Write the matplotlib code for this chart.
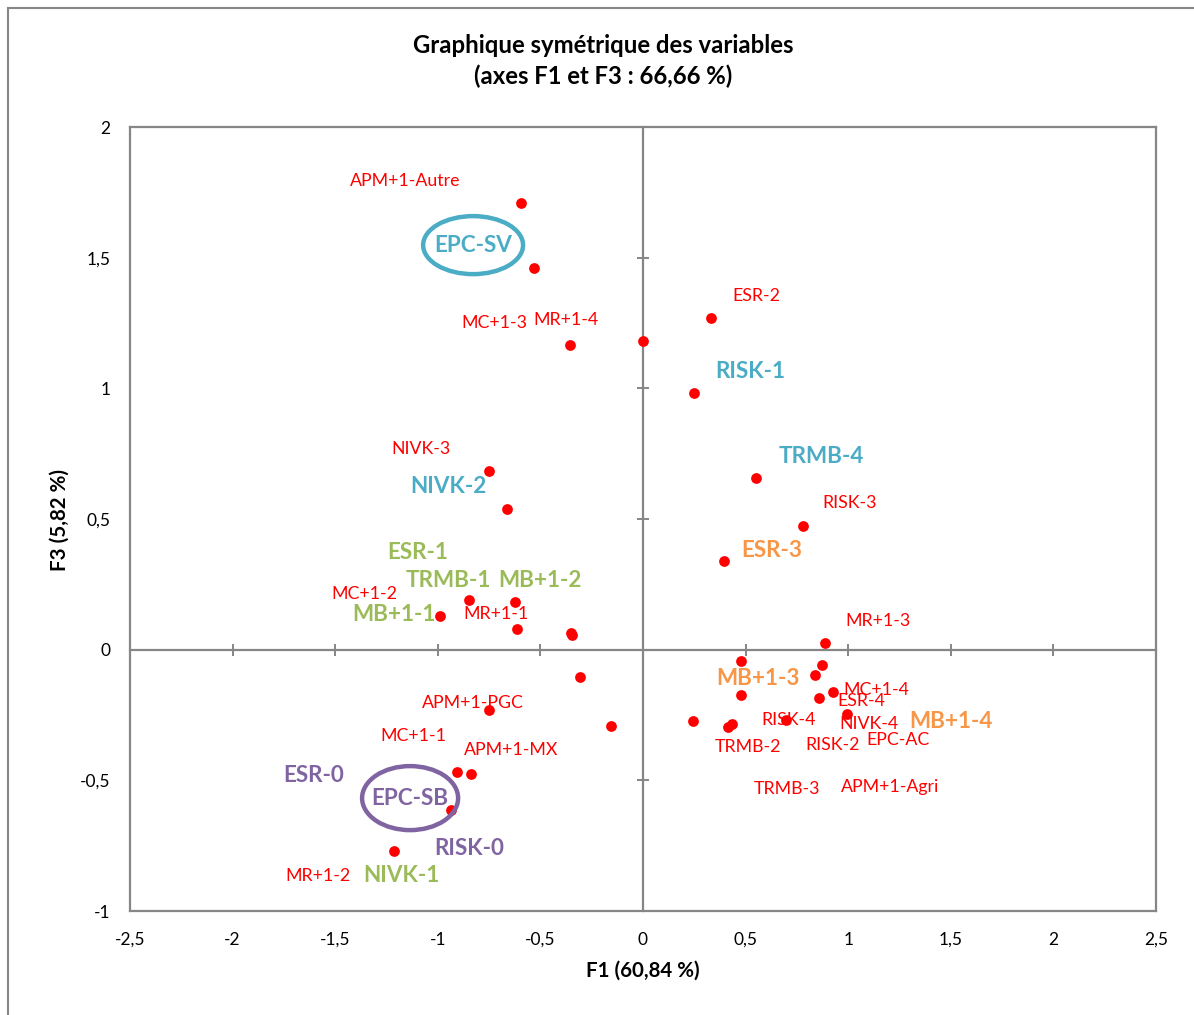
import matplotlib
matplotlib.use("Agg")
import matplotlib.pyplot as plt
from matplotlib.patches import Ellipse, Rectangle
from matplotlib.ticker import FuncFormatter

plt.rcParams['font.family'] = ['Lato', 'DejaVu Sans']

# ---- data ----
pt_x = [-0.595, -0.531, -0.356, 0.0, 0.331, 0.249, -0.75, -0.663, 0.551, 0.78,
        0.395, -0.848, -0.624, -0.99, -0.614, -0.346, -0.349, 0.887, 0.478, 0.872,
        -0.307, 0.838, 0.926, 0.478, 0.858, -0.75, 0.244, -0.156, 0.994, 0.697,
        0.434, 0.414, -0.906, -0.838, -0.936, -1.213]
pt_y = [1.71, 1.46, 1.166, 1.18, 1.27, 0.982, 0.683, 0.538, 0.657, 0.473,
        0.339, 0.19, 0.182, 0.128, 0.079, 0.056, 0.062, 0.026, -0.043, -0.059,
        -0.105, -0.097, -0.162, -0.174, -0.186, -0.231, -0.273, -0.292, -0.246, -0.268,
        -0.286, -0.296, -0.468, -0.475, -0.613, -0.77]

red_labels = ["APM+1-Autre", "MC+1-3", "MR+1-4", "ESR-2", "NIVK-3", "RISK-3",
              "MC+1-2", "MR+1-1", "MR+1-3", "APM+1-PGC", "MC+1-1", "APM+1-MX",
              "MR+1-2", "MC+1-4", "ESR-4", "RISK-4", "NIVK-4", "EPC-AC",
              "TRMB-2", "RISK-2", "TRMB-3", "APM+1-Agri"]
red_lx = [-1.159, -0.726, -0.375, 0.551, -1.082, 1.009, -1.36, -0.716, 1.145, -0.828,
          -1.121, -0.643, -1.584, 1.135, 1.062, 0.711, 1.101, 1.243, 0.512, 0.926,
          0.702, 1.204]
red_ly = [1.793, 1.25, 1.262, 1.353, 0.768, 0.561, 0.213, 0.136, 0.11, -0.204,
          -0.33, -0.384, -0.866, -0.155, -0.197, -0.27, -0.283, -0.345, -0.372, -0.365,
          -0.533, -0.525]

big_labels = ["EPC-SV", "RISK-1", "TRMB-4", "NIVK-2", "ESR-1", "TRMB-1", "MB+1-2",
              "MB+1-1", "ESR-3", "MB+1-3", "MB+1-4", "ESR-0", "EPC-SB", "RISK-0", "NIVK-1"]
big_lx = [-0.828, 0.521, 0.867, -0.95, -1.096, -0.95, -0.502, -1.213, 0.629, 0.56,
          1.501, -1.603, -1.135, -0.848, -1.179]
big_ly = [1.548, 1.066, 0.741, 0.626, 0.373, 0.266, 0.266, 0.133, 0.381, -0.109,
          -0.273, -0.48, -0.568, -0.762, -0.866]
big_group = ["blue", "blue", "blue", "blue", "green", "green", "green",
             "green", "orange", "orange", "orange", "purple", "purple", "purple", "green"]

ellipse_labels = ["EPC-SV", "EPC-SB"]

xticks = [-2.5, -2, -1.5, -1, -0.5, 0, 0.5, 1, 1.5, 2, 2.5]
yticks = [-1, -0.5, 0, 0.5, 1, 1.5, 2]

palette = {"blue": "#4BACC6", "green": "#9BBB59", "orange": "#F79646", "purple": "#8064A2"}
gray = "#868686"

def fmt(v, pos=None):
    return ("%g" % v).replace(".", ",")

W, H = 1194, 1015
fig = plt.figure(figsize=(W / 100, H / 100), dpi=100)

# outer chart border (partly off-canvas as in the reference)
fig.patches.append(Rectangle((8 / W, -0.05), 1.2, 1 - 8 / H + 0.05, transform=fig.transFigure,
                             fill=False, edgecolor=gray, linewidth=1.5))

pos = [130 / W, 1 - 911 / H, (1156 - 130) / W, (911 - 127) / H]
ax = fig.add_axes(pos)
ax.set_xlim(-2.5, 2.5)
ax.set_ylim(-1, 2)
ax.set_xticks(xticks)
ax.set_yticks(yticks)
ax.xaxis.set_major_formatter(FuncFormatter(fmt))
ax.yaxis.set_major_formatter(FuncFormatter(fmt))
ax.tick_params(length=0, labelsize=12.5, colors="black")
ax.tick_params(axis="x", pad=15)
ax.tick_params(axis="y", pad=14)
for s in ax.spines.values():
    s.set_color(gray)
    s.set_linewidth(1.6)

# overlay axes with crossing ticks on the zero lines
ax2 = fig.add_axes(pos, facecolor="none")
ax2.set_xlim(-2.5, 2.5)
ax2.set_ylim(-1, 2)
ax2.set_xticks(xticks)
ax2.set_yticks(yticks)
for side in ["top", "right"]:
    ax2.spines[side].set_visible(False)
ax2.spines["left"].set_position(("data", 0))
ax2.spines["bottom"].set_position(("data", 0))
for side in ["left", "bottom"]:
    ax2.spines[side].set_color(gray)
    ax2.spines[side].set_linewidth(1.6)
ax2.tick_params(direction="inout", length=8, width=1.4, color=gray,
                labelbottom=False, labelleft=False)

ax2.scatter(pt_x, pt_y, s=60, color="#FF0000", zorder=3, linewidths=0)

for t, x, y in zip(red_labels, red_lx, red_ly):
    ax2.text(x, y, t, color="#FF0000", fontsize=12.8, ha="center", va="center", zorder=4)

for t, x, y, g in zip(big_labels, big_lx, big_ly, big_group):
    ax2.text(x, y, t, color=palette[g], fontsize=16.2, fontweight="bold",
             ha="center", va="center", zorder=5)
    if t in ellipse_labels:
        h = 0.222 if t == "EPC-SV" else 0.245
        w = 0.487 if t == "EPC-SV" else 0.468
        ax2.add_patch(Ellipse((x, y), w, h, fill=False, edgecolor=palette[g],
                              linewidth=3.2, zorder=4))

fig.text(603 / W, 1 - 45 / H, "Graphique symétrique des variables", ha="center", va="center",
         fontsize=17.2, fontweight="bold")
fig.text(603 / W, 1 - 76 / H, "(axes F1 et F3 : 66,66 %)", ha="center", va="center",
         fontsize=17.2, fontweight="bold")
fig.text(643 / W, 1 - 971 / H, "F1 (60,84 %)", ha="center", va="center",
         fontsize=14.8, fontweight="bold")
fig.text(60 / W, 1 - 520 / H, "F3 (5,82 %)", ha="center", va="center", rotation=90,
         fontsize=14.8, fontweight="bold")

fig.savefig("out.png", dpi=100)
